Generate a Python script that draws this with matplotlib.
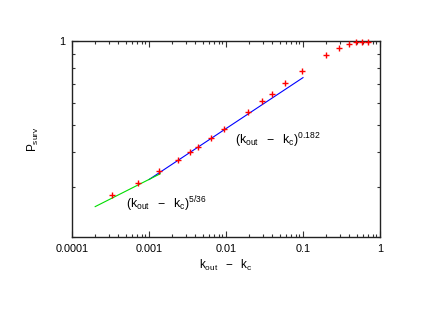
import numpy as np
import matplotlib
matplotlib.use("Agg")
import matplotlib.pyplot as plt
from matplotlib.ticker import FixedLocator, NullFormatter, FixedFormatter

# data
x_pts = [0.00033, 0.00073, 0.00135, 0.00236, 0.00338, 0.00433, 0.0063, 0.0094,
         0.0193, 0.0294, 0.0392, 0.059, 0.098, 0.199, 0.296, 0.396, 0.492, 0.589, 0.698]
p_pts = [0.282, 0.310, 0.343, 0.377, 0.400, 0.419, 0.451, 0.485,
         0.559, 0.610, 0.646, 0.706, 0.782, 0.893, 0.944, 0.975, 0.989, 0.990, 0.991]

blue_range = [0.001, 0.1]
blue_exp = 0.182
blue_amp = 1.125
green_range = [0.0002, 0.0014]
green_exp = 5.0 / 36.0
green_amp = 0.836

x_ticks = [0.0001, 0.001, 0.01, 0.1, 1]
x_ticklabels = ["0.0001", "0.001", "0.01", "0.1", "1"]
y_ticks = [1]
y_ticklabels = ["1"]

plt.rcParams['font.family'] = ['Liberation Sans', 'DejaVu Sans']
plt.rcParams['mathtext.fontset'] = 'custom'
plt.rcParams['mathtext.rm'] = 'Liberation Sans'
plt.rcParams['mathtext.it'] = 'Liberation Sans'

fig = plt.figure(figsize=(4.4, 3.11), dpi=100)
ax = fig.add_axes([72/440, 1-236.7/311, 308/440, 195.7/311])
ax.set_xscale('log')
ax.set_yscale('log')
ax.set_xlim(0.0001, 1)
ax.set_ylim(0.2, 1)

bx = np.logspace(np.log10(blue_range[0]), np.log10(blue_range[1]), 50)
ax.plot(bx, blue_amp * bx ** blue_exp, color='#0000ff', lw=0.8)
gx = np.logspace(np.log10(green_range[0]), np.log10(green_range[1]), 50)
ax.plot(gx, green_amp * gx ** green_exp, color='#00dd00', lw=0.8)

ax.plot(x_pts, p_pts, linestyle='none', marker='+', color='#ff0000',
        markersize=4, mew=1.0, clip_on=False, zorder=5)

ax.xaxis.set_major_locator(FixedLocator(x_ticks))
ax.xaxis.set_major_formatter(FixedFormatter(x_ticklabels))
xminor = [m * 10.0**e for e in range(-4, 0) for m in range(2, 10)]
ax.xaxis.set_minor_locator(FixedLocator(xminor))
ax.xaxis.set_minor_formatter(NullFormatter())

ax.yaxis.set_major_locator(FixedLocator(y_ticks))
ax.yaxis.set_major_formatter(FixedFormatter(y_ticklabels))
ax.yaxis.set_minor_locator(FixedLocator([0.2, 0.3, 0.4, 0.5, 0.6, 0.7, 0.8, 0.9]))
ax.yaxis.set_minor_formatter(NullFormatter())

ax.tick_params(which='both', direction='in', top=True, right=True,
               labelsize=7.8, width=0.8, color='#333333', pad=5)
ax.tick_params(which='major', length=4)
ax.tick_params(which='minor', length=2)
for s in ax.spines.values():
    s.set_linewidth(1.0)
    s.set_color('#222222')

ax.set_xlabel(r'$\mathregular{k_{out}\ \ -\ \ k_c}$', fontsize=8.5, labelpad=3)
ax.set_ylabel(r'$\mathregular{P_{surv}}$', fontsize=8.5, labelpad=13)

ax.text(0.0129, 0.443, r'$\mathregular{(k_{out}\ \ -\ \ k_c)^{0.182}}$',
        fontsize=8.8, va='center', ha='left')
ax.text(0.0005, 0.262, r'$\mathregular{(k_{out}\ \ -\ \ k_c)^{5/36}}$',
        fontsize=8.8, va='center', ha='left')

fig.savefig('out.png', dpi=100)
